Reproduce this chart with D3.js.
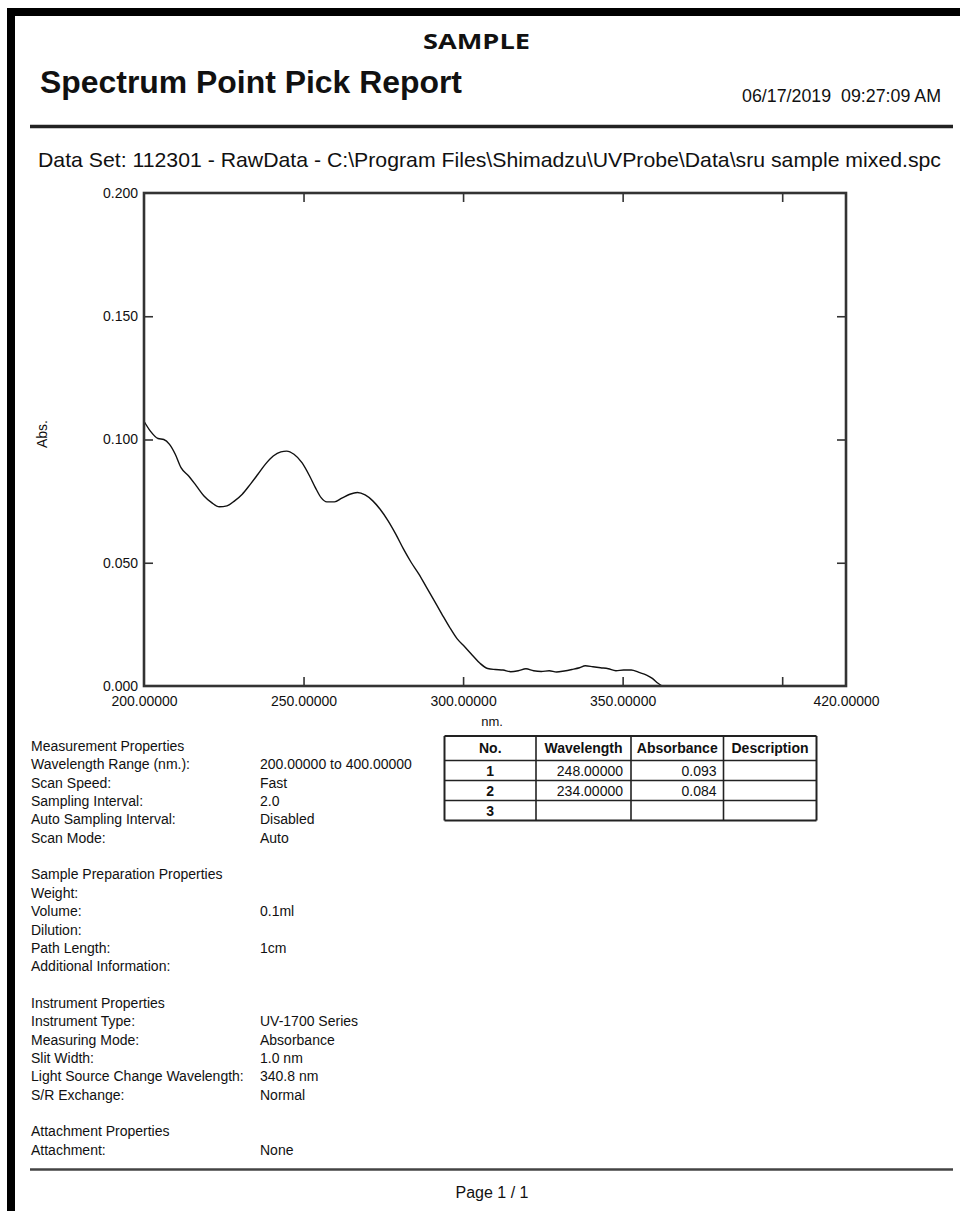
<!DOCTYPE html>
<html>
<head>
<meta charset="utf-8">
<script src="https://cdn.jsdelivr.net/npm/d3@7"></script>
<style>
  html, body { margin: 0; padding: 0; background: #fff; }
  svg { display: block; }
  text { font-family: "Liberation Sans", Arial, sans-serif; fill: #111; }
</style>
</head>
<body>
<svg id="report" width="960" height="1211"></svg>
<script>
// Spectrum: wavelength (nm) and absorbance
const wavelength = [200, 202, 204.4, 206.2, 208, 209.8, 211.6, 214, 216.4, 218.8, 221.2, 223.6, 226, 228.4, 230.8,
  233.3, 235.7, 238, 240.5, 242.9, 244.7, 247, 249.5, 251.9, 253.7, 255.5, 257.3, 259.7, 262, 264.5, 266.9,
  269.3, 271.7, 274, 276.5, 278.9, 281.3, 283.7, 286.1, 288.5, 290.9, 293.3, 295.7, 298.1, 300.5, 302.9,
  305.3, 307.7, 310.1, 312.5, 314.9, 317.3, 319.7, 322.1, 324.5, 327, 329.3, 331.7, 334.1, 336.5, 338.3,
  340.7, 343.1, 345.5, 347.9, 350.3, 352.7, 355.1, 357.5, 359.3, 361.1, 362.4];
const absorbance = [0.1074, 0.1034, 0.1004, 0.1000, 0.0980, 0.0940, 0.0886, 0.0852, 0.0812, 0.0771, 0.0744, 0.0727,
  0.0731, 0.0751, 0.0778, 0.0818, 0.0859, 0.0899, 0.0933, 0.0950, 0.0953, 0.0940, 0.0906, 0.0852, 0.0805,
  0.0764, 0.0747, 0.0747, 0.0762, 0.0778, 0.0785, 0.0775, 0.0751, 0.0717, 0.0670, 0.0616, 0.0556, 0.0502,
  0.0455, 0.0401, 0.0347, 0.0293, 0.0240, 0.0192, 0.0159, 0.0125, 0.0092, 0.0071, 0.0067, 0.0065, 0.0058,
  0.0062, 0.0070, 0.0062, 0.0059, 0.0062, 0.0057, 0.0061, 0.0067, 0.0074, 0.0082, 0.0078, 0.0074, 0.0070,
  0.0062, 0.0065, 0.0065, 0.0055, 0.0044, 0.0031, 0.0011, 0.0000];

// Axis ticks
const xLabelTicks = [200, 250, 300, 350, 420];
const xMarkTicks = [250, 300, 350, 400];
const yTicks = [0, 0.05, 0.10, 0.15, 0.20];

// Peak pick table
const pickNo = [1, 2, 3];
const pickWavelength = [248, 234, null];
const pickAbsorbance = [0.093, 0.084, null];
const pickColumns = ["No.", "Wavelength", "Absorbance", "Description"];

// Report property sections (label, value); null marks a blank spacer line
const propLabels = [
  "Measurement Properties", "Wavelength Range (nm.):", "Scan Speed:", "Sampling Interval:",
  "Auto Sampling Interval:", "Scan Mode:", null,
  "Sample Preparation Properties", "Weight:", "Volume:", "Dilution:", "Path Length:", "Additional Information:", null,
  "Instrument Properties", "Instrument Type:", "Measuring Mode:", "Slit Width:",
  "Light Source Change Wavelength:", "S/R Exchange:", null,
  "Attachment Properties", "Attachment:"
];
const propValues = [
  "", "200.00000 to 400.00000", "Fast", "2.0", "Disabled", "Auto", null,
  "", "", "0.1ml", "", "1cm", "", null,
  "", "UV-1700 Series", "Absorbance", "1.0 nm", "340.8 nm", "Normal", null,
  "", "None"
];

const svg = d3.select("#report");

// Page frame (left and top edges)
svg.append("rect").attr("x", 7).attr("y", 8).attr("width", 8).attr("height", 1211 - 8).attr("fill", "#000");
svg.append("rect").attr("x", 7).attr("y", 8).attr("width", 960 - 7).attr("height", 8).attr("fill", "#000");

// Header
svg.append("text").attr("x", 423).attr("y", 49)
  .attr("textLength", 107).attr("lengthAdjust", "spacingAndGlyphs")
  .style("font-family", "'Open Sans', 'Noto Sans', sans-serif")
  .style("font-weight", "bold").style("font-size", "22px").text("SAMPLE");

svg.append("text").attr("x", 40).attr("y", 93)
  .attr("textLength", 422).attr("lengthAdjust", "spacingAndGlyphs")
  .style("font-weight", "bold").style("font-size", "32px").text("Spectrum Point Pick Report");

svg.append("text").attr("x", 742).attr("y", 101.5)
  .attr("textLength", 199).attr("lengthAdjust", "spacingAndGlyphs")
  .style("font-size", "18px").attr("xml:space", "preserve").text("06/17/2019  09:27:09 AM");

svg.append("line").attr("x1", 30).attr("x2", 953).attr("y1", 126.5).attr("y2", 126.5)
  .attr("stroke", "#222").attr("stroke-width", 3.5);

svg.append("text").attr("x", 38).attr("y", 166.5)
  .attr("textLength", 903).attr("lengthAdjust", "spacingAndGlyphs")
  .style("font-size", "21px")
  .text("Data Set: 112301 - RawData - C:\\Program Files\\Shimadzu\\UVProbe\\Data\\sru sample mixed.spc");

// Plot area
const plot = { left: 144, right: 846, top: 193, bottom: 686 };
const x = d3.scaleLinear().domain([200, 420]).range([plot.left, plot.right]);
const y = d3.scaleLinear().domain([0, 0.2]).range([plot.bottom, plot.top]);
const axisColor = "#333";
const tickLen = 9;

svg.append("defs").append("clipPath").attr("id", "plotClip")
  .append("rect").attr("x", plot.left).attr("y", plot.top)
  .attr("width", plot.right - plot.left).attr("height", plot.bottom - plot.top);

// Spectrum line
const points = wavelength.map((w, i) => [w, absorbance[i]]);
svg.append("path")
  .datum(points)
  .attr("clip-path", "url(#plotClip)")
  .attr("fill", "none").attr("stroke", "#111").attr("stroke-width", 1.4)
  .attr("stroke-linejoin", "round")
  .attr("d", d3.line().x(d => x(d[0])).y(d => y(d[1])).curve(d3.curveMonotoneX));

// Inward tick marks on all four sides
const styleTicks = g => {
  g.select(".domain").remove();
  g.selectAll(".tick line").attr("stroke", axisColor).attr("stroke-width", 1.6);
  g.selectAll(".tick text").remove();
};
svg.append("g").attr("transform", `translate(0,${plot.bottom})`)
  .call(d3.axisBottom(x).tickValues(xMarkTicks).tickSize(-tickLen)).call(styleTicks);
svg.append("g").attr("transform", `translate(0,${plot.top})`)
  .call(d3.axisTop(x).tickValues(xMarkTicks).tickSize(-tickLen)).call(styleTicks);
svg.append("g").attr("transform", `translate(${plot.left},0)`)
  .call(d3.axisLeft(y).tickValues(yTicks.slice(1, -1)).tickSize(-tickLen)).call(styleTicks);
svg.append("g").attr("transform", `translate(${plot.right},0)`)
  .call(d3.axisRight(y).tickValues(yTicks.slice(1, -1)).tickSize(-tickLen)).call(styleTicks);

// Frame
svg.append("rect").attr("x", plot.left).attr("y", plot.top)
  .attr("width", plot.right - plot.left).attr("height", plot.bottom - plot.top)
  .attr("fill", "none").attr("stroke", axisColor).attr("stroke-width", 2.6);

// Tick labels
const xLab = svg.append("g").attr("transform", `translate(0,${plot.bottom})`)
  .call(d3.axisBottom(x).tickValues(xLabelTicks).tickSize(0).tickPadding(10).tickFormat(d => d.toFixed(5)));
xLab.select(".domain").remove();
xLab.selectAll(".tick text").style("font-family", "'Liberation Sans', Arial, sans-serif")
  .style("font-size", "14px").attr("fill", "#111");

const yLab = svg.append("g").attr("transform", `translate(${plot.left},0)`)
  .call(d3.axisLeft(y).tickValues(yTicks).tickSize(0).tickPadding(6).tickFormat(d3.format(".3f")));
yLab.select(".domain").remove();
yLab.selectAll(".tick text").style("font-family", "'Liberation Sans', Arial, sans-serif")
  .style("font-size", "14px").attr("fill", "#111");

// Axis titles
svg.append("text").attr("x", 492).attr("y", 726).attr("text-anchor", "middle")
  .style("font-size", "13px").text("nm.");
svg.append("text").attr("transform", "translate(47,434) rotate(-90)").attr("text-anchor", "middle")
  .style("font-size", "14px").text("Abs.");

// Properties listing
const propTop = 751, propStep = 18.35;
const props = svg.append("g").style("font-size", "14px");
propLabels.forEach((label, i) => {
  if (label === null) return;
  props.append("text").attr("x", 31).attr("y", propTop + i * propStep).text(label);
  if (propValues[i]) props.append("text").attr("x", 260).attr("y", propTop + i * propStep).text(propValues[i]);
});

// Peak pick table
const colEdges = [444.5, 536, 631, 723.5, 816.5];
const rowEdges = [736, 760.5, 780.5, 800.5, 820.5];
const table = svg.append("g");
rowEdges.forEach((ry, i) => {
  table.append("line").attr("x1", colEdges[0]).attr("x2", colEdges[colEdges.length - 1])
    .attr("y1", ry).attr("y2", ry).attr("stroke", "#222")
    .attr("stroke-width", (i === 0 || i === rowEdges.length - 1) ? 2 : 1.6);
});
colEdges.forEach((cx, i) => {
  table.append("line").attr("x1", cx).attr("x2", cx)
    .attr("y1", rowEdges[0]).attr("y2", rowEdges[rowEdges.length - 1]).attr("stroke", "#222")
    .attr("stroke-width", (i === 0 || i === colEdges.length - 1) ? 2 : 1.6);
});
table.selectAll("text.head").data(pickColumns).join("text").attr("class", "head")
  .attr("x", (d, i) => (colEdges[i] + colEdges[i + 1]) / 2)
  .attr("y", (rowEdges[0] + rowEdges[1]) / 2 + 5)
  .attr("text-anchor", "middle").style("font-weight", "bold").style("font-size", "14px")
  .text(d => d);
const rows = pickNo.map((n, i) => ({ n, w: pickWavelength[i], a: pickAbsorbance[i], r: i }));
const rowY = d => (rowEdges[d.r + 1] + rowEdges[d.r + 2]) / 2 + 5;
table.selectAll("text.no").data(rows).join("text").attr("class", "no")
  .attr("x", (colEdges[0] + colEdges[1]) / 2).attr("y", rowY)
  .attr("text-anchor", "middle").style("font-weight", "bold").style("font-size", "14px")
  .text(d => d.n);
table.selectAll("text.wl").data(rows.filter(d => d.w !== null)).join("text").attr("class", "wl")
  .attr("x", colEdges[2] - 8).attr("y", rowY)
  .attr("text-anchor", "end").style("font-size", "14px")
  .text(d => d.w.toFixed(5));
table.selectAll("text.ab").data(rows.filter(d => d.a !== null)).join("text").attr("class", "ab")
  .attr("x", colEdges[3] - 7).attr("y", rowY)
  .attr("text-anchor", "end").style("font-size", "14px")
  .text(d => d.a.toFixed(3));

// Footer
svg.append("line").attr("x1", 30).attr("x2", 953).attr("y1", 1169.5).attr("y2", 1169.5)
  .attr("stroke", "#444").attr("stroke-width", 2.6);
svg.append("text").attr("x", 492).attr("y", 1198).attr("text-anchor", "middle")
  .style("font-size", "16px").text("Page 1 / 1");
</script>
</body>
</html>
